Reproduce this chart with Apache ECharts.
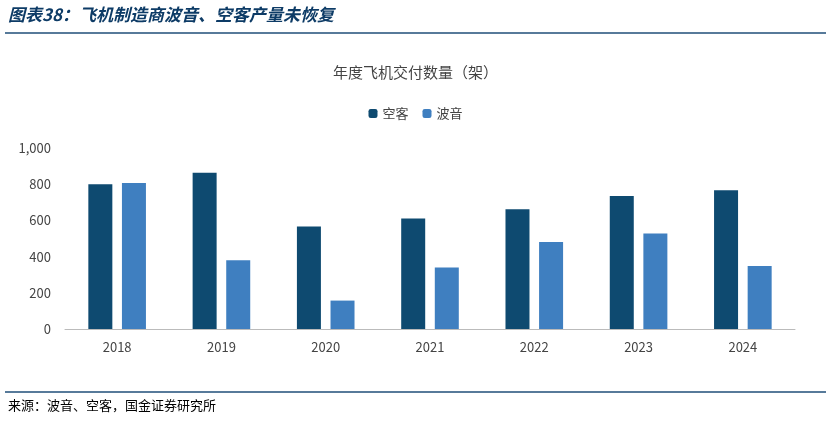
<!DOCTYPE html>
<html><head><meta charset="utf-8">
<script src="https://cdn.jsdelivr.net/npm/echarts@6/dist/echarts.min.js"></script>
<style>html,body{margin:0;padding:0;background:#fff}#c{width:831px;height:421px}</style>
</head><body><div id="c"></div>
<script>
const years = ['2018','2019','2020','2021','2022','2023','2024'];
const airbus = [800, 863, 566, 611, 661, 735, 766];
const boeing = [806, 380, 157, 340, 480, 528, 348];
const chart = echarts.init(document.getElementById('c'));
const F = '"Noto Sans CJK SC", sans-serif';
chart.setOption({
  animation:false,
  graphic:[
    {type:'text',left:8,top:6,style:{text:'图表38：飞机制造商波音、空客产量未恢复',font:'italic bold 17px "Noto Sans CJK SC"',fill:'#0d3b66'}},
    {type:'line',shape:{x1:5,y1:33,x2:826,y2:33},style:{stroke:'#1f4e79',lineWidth:1.5}},
    {type:'line',shape:{x1:5,y1:392,x2:826,y2:392},style:{stroke:'#1f4e79',lineWidth:1.5}},
    {type:'text',left:8,top:399,style:{text:'来源：波音、空客，国金证券研究所',font:'13px "Noto Sans CJK SC"',fill:'#000'}}
  ],
  title:{text:'年度飞机交付数量（架）',left:'center',top:60,textStyle:{fontFamily:F,fontWeight:'normal',fontSize:15,color:'#444'}},
  legend:{top:102,left:'center',itemWidth:9,itemHeight:9,itemGap:14,textStyle:{fontFamily:F,fontSize:13,color:'#444'},data:['空客','波音']},
  grid:{left:65,right:36,top:148,bottom:92},
  xAxis:{type:'category',data:years,axisTick:{show:false},axisLine:{lineStyle:{color:'#bbb'}},axisLabel:{fontFamily:F,fontSize:13,color:'#444',margin:12}},
  yAxis:{type:'value',min:0,max:1000,interval:200,splitLine:{show:false},axisLabel:{fontFamily:F,fontSize:13,color:'#444',margin:14}},
  series:[
    {name:'空客',type:'bar',data:airbus,barWidth:24,barGap:'40%',itemStyle:{color:'#0e4a70'}},
    {name:'波音',type:'bar',data:boeing,barWidth:24,itemStyle:{color:'#3f7fc0'}}
  ]
});
</script></body></html>
